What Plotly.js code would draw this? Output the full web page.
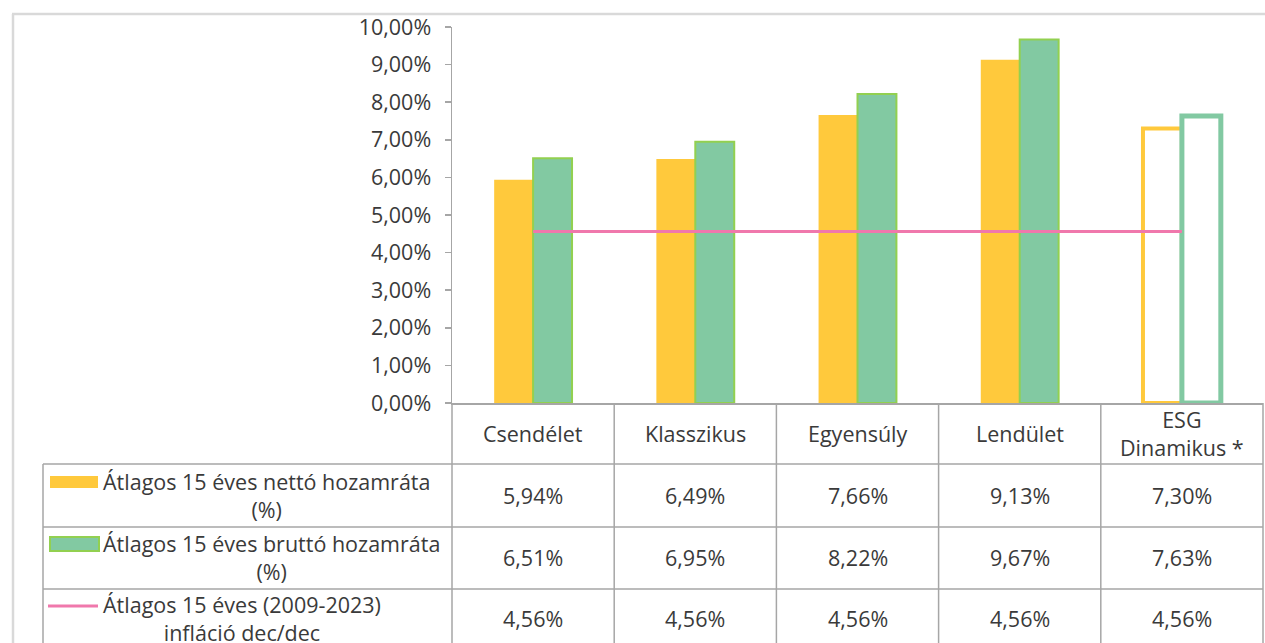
<!DOCTYPE html>
<html>
<head>
<meta charset="utf-8">
<script src="https://cdn.plot.ly/plotly-3.0.1.min.js"></script>
<style>html,body{margin:0;padding:0;background:#fff;}#chart{width:1265px;height:643px;}</style>
</head>
<body>
<div id="chart"></div>
<script>
// ---- data ----
var categories = ["Csendélet", "Klasszikus", "Egyensúly", "Lendület", "ESG Dinamikus *"];
var categoryLabels = ["Csendélet", "Klasszikus", "Egyensúly", "Lendület", "ESG<br>Dinamikus *"];
var netReturn = [5.94, 6.49, 7.66, 9.13, 7.30];
var grossReturn = [6.51, 6.95, 8.22, 9.67, 7.63];
var inflation = [4.56, 4.56, 4.56, 4.56, 4.56];
var seriesNames = [
  "Átlagos 15 éves nettó hozamráta<br>(%)",
  "Átlagos 15 éves bruttó hozamráta<br>(%)",
  "Átlagos 15 éves (2009-2023)<br>infláció dec/dec"
];
var yTickMin = 0, yTickMax = 10, yTickStep = 1;

// ---- styling ----
var W = 1265, H = 643;
var plotL = 452, plotR = 1263, plotT = 27, plotB = 403;
var yellow = "#FFC93C", green = "#82C9A2", greenEdge = "#92D050", pink = "#F078AC";
var gridGray = "#A6A6A6", frameGray = "#D9D9D9", txt = "#3A3A3A";
var FONT = "'Open Sans', Lato, sans-serif", FS = 21.5;

function px(x) { return (x - plotL) / (plotR - plotL); }
function py(y) { return (plotB - y) / (plotB - plotT); }
function fmt(v) { return v.toFixed(2).replace(".", ",") + "%"; }

var n = categories.length;
var lastIdx = n - 1;
var hollow = categories.map(function (c, i) { return i === lastIdx; });

var traces = [
  {
    type: "bar", name: "net", x: categories, y: netReturn,
    marker: {
      color: hollow.map(function (h) { return h ? "rgba(255,255,255,0)" : yellow; }),
      line: { color: yellow, width: hollow.map(function (h) { return h ? 4 : 0; }) }
    },
    hoverinfo: "skip"
  },
  {
    type: "bar", name: "gross", x: categories, y: grossReturn,
    marker: {
      color: hollow.map(function (h) { return h ? "rgba(255,255,255,0)" : green; }),
      line: {
        color: hollow.map(function (h) { return h ? green : greenEdge; }),
        width: hollow.map(function (h) { return h ? 5 : 2; })
      }
    },
    hoverinfo: "skip"
  },
  {
    type: "scatter", mode: "lines", name: "infl", x: categories, y: inflation,
    line: { color: pink, width: 3 }, hoverinfo: "skip"
  }
];

var shapes = [];
var annotations = [];
var tableBottom = H + 20;
var rowLines = [464, 527, 589];
var rowCenters = [495.5, 557, 618];
var headerCenter = 433;

// outer frame
shapes.push({ type: "line", xref: "paper", yref: "paper", x0: px(12), x1: px(W + 5), y0: py(14), y1: py(14), line: { color: frameGray, width: 2.5 } });
shapes.push({ type: "line", xref: "paper", yref: "paper", x0: px(13), x1: px(13), y0: py(14), y1: py(tableBottom), line: { color: frameGray, width: 2.5 } });

// table horizontal lines
rowLines.forEach(function (y) {
  shapes.push({ type: "line", xref: "paper", yref: "paper", x0: px(43), x1: 1, y0: py(y), y1: py(y), line: { color: gridGray, width: 1.5 } });
});
// table vertical lines at category boundaries
for (var b = 0; b <= n; b++) {
  shapes.push({ type: "line", xref: "paper", yref: "paper", x0: b / n, x1: b / n, y0: 0, y1: py(tableBottom), line: { color: gridGray, width: 1.5 } });
}
// left border of legend column
shapes.push({ type: "line", xref: "paper", yref: "paper", x0: px(43), x1: px(43), y0: py(rowLines[0]), y1: py(tableBottom), line: { color: gridGray, width: 1.5 } });

// legend keys
shapes.push({ type: "rect", xref: "paper", yref: "paper", x0: px(50), x1: px(98), y0: py(476), y1: py(488), fillcolor: yellow, line: { width: 0 } });
shapes.push({ type: "rect", xref: "paper", yref: "paper", x0: px(50), x1: px(99), y0: py(537), y1: py(551), fillcolor: green, line: { color: greenEdge, width: 2 } });
shapes.push({ type: "line", xref: "paper", yref: "paper", x0: px(48), x1: px(98), y0: py(606), y1: py(606), line: { color: pink, width: 3 } });

// legend texts
seriesNames.forEach(function (s, i) {
  annotations.push({ xref: "paper", yref: "paper", x: px(101), y: py(rowCenters[i]), xanchor: "left", yanchor: "middle", align: "center", text: s, showarrow: false, font: { family: FONT, size: FS, color: txt } });
});

// header row
categories.forEach(function (c, i) {
  annotations.push({ xref: "x", yref: "paper", x: c, y: py(headerCenter), xanchor: "center", yanchor: "middle", text: categoryLabels[i], showarrow: false, font: { family: FONT, size: FS, color: txt } });
});
// value rows
[netReturn, grossReturn, inflation].forEach(function (arr, r) {
  arr.forEach(function (v, i) {
    annotations.push({ xref: "x", yref: "paper", x: categories[i], y: py(rowCenters[r]), xanchor: "center", yanchor: "middle", text: fmt(v), showarrow: false, font: { family: FONT, size: FS, color: txt } });
  });
});

var layout = {
  width: W, height: H,
  margin: { l: plotL, r: W - plotR, t: plotT, b: H - plotB, pad: 0 },
  paper_bgcolor: "#ffffff", plot_bgcolor: "#ffffff",
  showlegend: false,
  barmode: "group", bargap: 0.52, bargroupgap: 0,
  separators: ", ",
  font: { family: FONT, size: FS, color: txt },
  xaxis: {
    type: "category", range: [-0.5, n - 0.5],
    showticklabels: false, ticks: "", showgrid: false, zeroline: false,
    showline: true, linecolor: gridGray, linewidth: 1.5
  },
  yaxis: {
    range: [yTickMin, yTickMax], tickmode: "linear", tick0: yTickMin, dtick: yTickStep,
    tickformat: ".2f", ticksuffix: "%", showticksuffix: "all",
    showgrid: false, zeroline: false, showline: true, linecolor: gridGray, linewidth: 1.5,
    ticks: "outside", ticklen: 6, tickcolor: gridGray, tickwidth: 1.5,
    ticklabelstandoff: 9,
    tickfont: { family: FONT, size: FS, color: txt }
  },
  shapes: shapes,
  annotations: annotations
};

Plotly.newPlot("chart", traces, layout, { staticPlot: true, displayModeBar: false });
</script>
</body>
</html>
